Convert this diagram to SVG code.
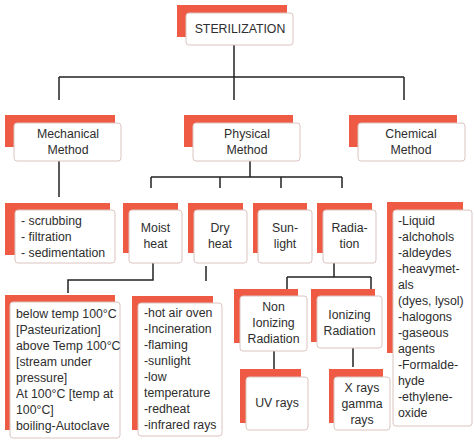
<svg xmlns="http://www.w3.org/2000/svg" width="474" height="442" viewBox="0 0 474 442">
<style>
.sh{fill:#EE5A44}
.bx{fill:#fff;stroke:#dcc4c1;stroke-width:1}
text{font-family:"Liberation Sans",Arial,sans-serif;font-size:12.3px;fill:#2e2e2e}
.c{text-anchor:middle}
.ln{stroke:#222;stroke-width:1.5;fill:none}
</style>
<rect width="474" height="442" fill="#fff"/>
<g id="connectors">
<path class="ln" d="M234 45V77M59 77H404M59 77V100M234 77V100M404 77V100"/>
<path class="ln" d="M59 161V197"/>
<path class="ln" d="M250 161V177M151 177H342M151 177V188M220 177V188M281 177V188M342 177V188"/>
<path class="ln" d="M153 263V280H68V293"/>
<path class="ln" d="M206 266V281"/>
<path class="ln" d="M334 263V277M287 277H371M287 277V289M371 277V289"/>
<path class="ln" d="M274 351V369"/>
<path class="ln" d="M353 348V367"/>
</g>
<g id="sterilization">
<rect class="sh" x="177" y="5" width="110" height="32"/>
<rect class="bx" x="186" y="13" width="107" height="32" rx="3"/>
<text class="c" x="240" y="33">STERILIZATION</text>
</g>
<g id="mechanical">
<rect class="sh" x="5" y="115" width="110" height="32"/>
<rect class="bx" x="14" y="123" width="107" height="38" rx="3"/>
<text class="c" x="68" y="138">Mechanical</text>
<text class="c" x="68" y="154">Method</text>
</g>
<g id="physical">
<rect class="sh" x="184" y="115" width="109" height="32"/>
<rect class="bx" x="193" y="123" width="107" height="38" rx="3"/>
<text class="c" x="247" y="138">Physical</text>
<text class="c" x="247" y="154">Method</text>
</g>
<g id="chemical">
<rect class="sh" x="349" y="115" width="108" height="32"/>
<rect class="bx" x="358" y="123" width="107" height="38" rx="3"/>
<text class="c" x="411" y="138">Chemical</text>
<text class="c" x="411" y="154">Method</text>
</g>
<g id="mechanical-list">
<rect class="sh" x="5" y="203" width="105" height="52"/>
<rect class="bx" x="15" y="210" width="100" height="53" rx="3"/>
<text x="21" y="225">- scrubbing</text>
<text x="21" y="241">- filtration</text>
<text x="21" y="257">- sedimentation</text>
</g>
<g id="moist-heat">
<rect class="sh" x="123" y="203" width="55" height="50"/>
<rect class="bx" x="129" y="210" width="53" height="53" rx="3"/>
<text class="c" x="155.5" y="232">Moist</text>
<text class="c" x="155.5" y="248">heat</text>
</g>
<g id="dry-heat">
<rect class="sh" x="188" y="203" width="55" height="50"/>
<rect class="bx" x="194" y="210" width="53" height="53" rx="3"/>
<text class="c" x="220" y="232">Dry</text>
<text class="c" x="220" y="248">heat</text>
</g>
<g id="sunlight">
<rect class="sh" x="253" y="203" width="54" height="50"/>
<rect class="bx" x="258" y="210" width="54" height="53" rx="3"/>
<text class="c" x="285" y="232">Sun-</text>
<text class="c" x="285" y="248">light</text>
</g>
<g id="radiation">
<rect class="sh" x="317" y="203" width="55" height="50"/>
<rect class="bx" x="323" y="210" width="53" height="53" rx="3"/>
<text class="c" x="349.5" y="232">Radia-</text>
<text class="c" x="349.5" y="248">tion</text>
</g>
<g id="chemical-list">
<rect class="sh" x="387" y="202" width="76" height="151"/>
<rect class="bx" x="393" y="210" width="79" height="216" rx="3"/>
<text x="398" y="225">-Liquid</text>
<text x="398" y="241">-alchohols</text>
<text x="398" y="257">-aldeydes</text>
<text x="398" y="273">-heavymet-</text>
<text x="398" y="289">als</text>
<text x="398" y="305">(dyes, lysol)</text>
<text x="398" y="321">-halogons</text>
<text x="398" y="337">-gaseous</text>
<text x="398" y="353">agents</text>
<text x="398" y="369">-Formalde-</text>
<text x="398" y="385">hyde</text>
<text x="398" y="401">-ethylene-</text>
<text x="398" y="417">oxide</text>
</g>
<g id="moist-list">
<rect class="sh" x="5" y="295" width="110" height="135"/>
<rect class="bx" x="10" y="302" width="110" height="136" rx="3"/>
<text x="16" y="318">below temp 100°C</text>
<text x="16" y="334">[Pasteurization]</text>
<text x="16" y="350">above Temp 100°C</text>
<text x="16" y="366">[stream under</text>
<text x="16" y="382">pressure]</text>
<text x="16" y="398">At 100°C [temp at</text>
<text x="16" y="414">100°C]</text>
<text x="16" y="430">boiling-Autoclave</text>
</g>
<g id="dry-list">
<rect class="sh" x="132" y="296" width="81" height="134"/>
<rect class="bx" x="138" y="303" width="84" height="133" rx="3"/>
<text x="144" y="317">-hot air oven</text>
<text x="144" y="333">-Incineration</text>
<text x="144" y="349">-flaming</text>
<text x="144" y="365">-sunlight</text>
<text x="144" y="381">-low</text>
<text x="144" y="397">temperature</text>
<text x="144" y="413">-redheat</text>
<text x="144" y="429">-infrared rays</text>
</g>
<g id="non-ionizing">
<rect class="sh" x="234" y="289" width="64" height="54"/>
<rect class="bx" x="240" y="296" width="67" height="55" rx="3"/>
<text class="c" x="273.5" y="311">Non</text>
<text class="c" x="273.5" y="327">Ionizing</text>
<text class="c" x="273.5" y="343">Radiation</text>
</g>
<g id="ionizing">
<rect class="sh" x="311" y="289" width="64" height="53"/>
<rect class="bx" x="317" y="296" width="65" height="52" rx="3"/>
<text class="c" x="349.5" y="319">Ionizing</text>
<text class="c" x="349.5" y="335">Radiation</text>
</g>
<g id="uv-rays">
<rect class="sh" x="240" y="369" width="61" height="54"/>
<rect class="bx" x="246" y="377" width="62" height="53" rx="3"/>
<text class="c" x="277" y="407">UV rays</text>
</g>
<g id="x-rays">
<rect class="sh" x="329" y="369" width="54" height="54"/>
<rect class="bx" x="334" y="377" width="56" height="53" rx="3"/>
<text class="c" x="362" y="392">X rays</text>
<text class="c" x="362" y="408">gamma</text>
<text class="c" x="362" y="424">rays</text>
</g>
</svg>
